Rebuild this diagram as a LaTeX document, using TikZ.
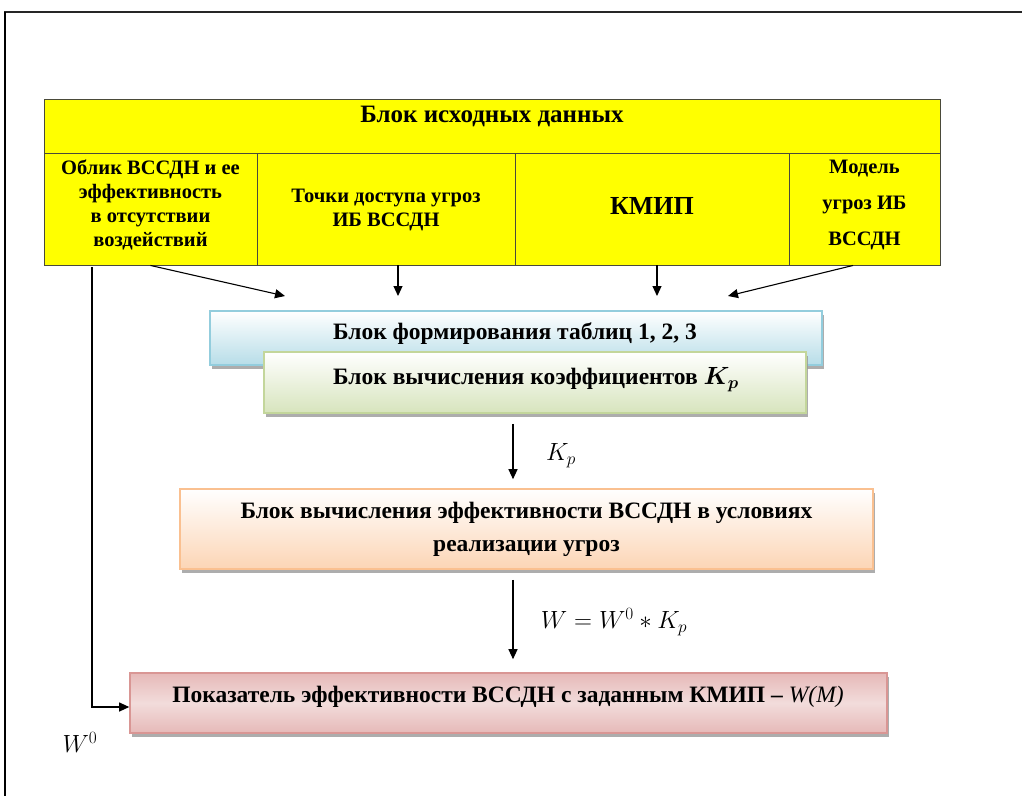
\documentclass[tikz,border=0pt]{standalone}
\usepackage{bm}
\usepackage{fontspec}
\setmainfont{Liberation Serif}
\usetikzlibrary{arrows.meta,shadows}
\definecolor{yel}{HTML}{FFFF00}
\definecolor{tblline}{HTML}{4A4A3A}
\definecolor{bluebd}{HTML}{93CDDD}
\definecolor{bluefl}{HTML}{B7DDE8}
\definecolor{greenbd}{HTML}{C3D69B}
\definecolor{greenfl}{HTML}{D7E4BD}
\definecolor{orbd}{HTML}{FAC090}
\definecolor{orfl}{HTML}{FCD5B5}
\definecolor{pinkbd}{HTML}{D99694}
\definecolor{pinkfl}{HTML}{E6B9B8}
\definecolor{pinkmid}{HTML}{F2DCDB}
\begin{document}
\begin{tikzpicture}[x=1pt,y=-1pt,
  cell/.style={draw=tblline,fill=yel,line width=0.9pt,inner sep=0pt,minimum height=112pt},
  hdr/.style={draw=tblline,fill=yel,line width=0.9pt,inner sep=0pt},
  celltxt/.style={font=\fontsize{20.5}{24}\selectfont\bfseries,align=center,inner sep=0pt},
  blk/.style={line width=1.6pt,inner sep=0pt,drop shadow={shadow xshift=2pt,shadow yshift=-4pt,fill=black!40,opacity=0.8}},
  blktxt/.style={font=\fontsize{23.5}{33}\selectfont\bfseries,align=center,inner sep=0pt},
  arr/.style={line width=1.1pt,-{Triangle[length=10pt,width=9pt]}},
  lbl/.style={font=\fontsize{24.5}{28}\selectfont,inner sep=0pt}
]
\useasboundingbox (0,0) rectangle (1022,796);
% frame
\draw[line width=2.2pt,black!85] (4,12) -- (1022,12);
\draw[line width=1.2pt] (5,12) -- (5,796);
% table
\node[hdr,minimum width=896pt,minimum height=54pt] (hdr) at (492,126) {};
\node[font=\fontsize{25}{28}\selectfont\bfseries,inner sep=0pt] (hdrt) at (492,116) {Блок исходных данных};
\node[cell,minimum width=213pt] (c1) at (150.5,209) {};
\node[cell,minimum width=258pt] (c2) at (386,209) {};
\node[cell,minimum width=274pt] (c3) at (652,209) {};
\node[cell,minimum width=151pt] (c4) at (864.5,209) {};
\node[celltxt] (c1t) at (150.5,205) {Облик ВССДН и ее\\эффективность\\в отсутствии\\воздействий};
\node[celltxt] (c2t) at (386,210) {Точки доступа угроз\\ИБ ВССДН};
\node[font=\fontsize{26}{28}\selectfont\bfseries,inner sep=0pt] (c3t) at (652,206) {КМИП};
\node[celltxt,font=\fontsize{20.5}{36}\selectfont\bfseries] (c4t) at (864.5,205) {Модель\\угроз ИБ\\ВССДН};
% blocks
\node[blk,draw=bluebd,top color=white,bottom color=bluefl,minimum width=612pt,minimum height=54pt] (b1) at (516,338) {};
\node[blktxt] (b1t) at (515,334) {Блок формирования таблиц 1, 2, 3};
\node[blk,draw=greenbd,top color=white,bottom color=greenfl,minimum width=542pt,minimum height=61pt] (b2) at (535,382.5) {};
\node[blktxt] (b2t) at (536,380) {Блок вычисления коэффициентов $\bm{K_p}$};
\node[blk,draw=orbd,top color=white,bottom color=orfl,minimum width=693pt,minimum height=80pt] (b3) at (526.5,529) {};
\node[blktxt] (b3t) at (526.5,529.5) {Блок вычисления эффективности ВССДН в условиях\\реализации угроз};
\node[blk,draw=pinkbd,top color=pinkfl,bottom color=pinkfl,middle color=pinkmid,minimum width=757pt,minimum height=60pt] (b4) at (508.5,703) {};
\node[blktxt] (b4t) at (508,697) {Показатель эффективности ВССДН с заданным КМИП -- \textmd{\itshape W(M)}};
% connector helpers
\coordinate (p1) at (285,296);
\coordinate (p2) at (398,296);
\coordinate (p3) at (657,296);
\coordinate (p4) at (728,296);
\coordinate (mx) at (513,0);
% connectors
\draw[arr] (c1.south) -- (p1);
\draw[arr] ([xshift=12pt]c2.south) -- (p2);
\draw[arr] ([xshift=5pt]c3.south) -- (p3);
\draw[arr] ([xshift=-11.5pt]c4.south) -- (p4);
\draw[arr,shorten <=10pt,shorten >=9pt] (b2.south -| mx) -- (b3.north -| mx);
\draw[arr,shorten <=10pt,shorten >=13pt] (b3.south -| mx) -- (b4.north -| mx);
\draw[arr] ([xshift=-58.5pt,yshift=-2pt]c1.south) |- ([yshift=-4pt]b4.west);
% labels
\node[lbl] (kp) at (561,456) {$K_p$};
\node[lbl] (wf) at (614,622) {$W = W^0 * K_p$};
\node[lbl] (w0) at (80,742) {$W^0$};
\end{tikzpicture}
\end{document}
